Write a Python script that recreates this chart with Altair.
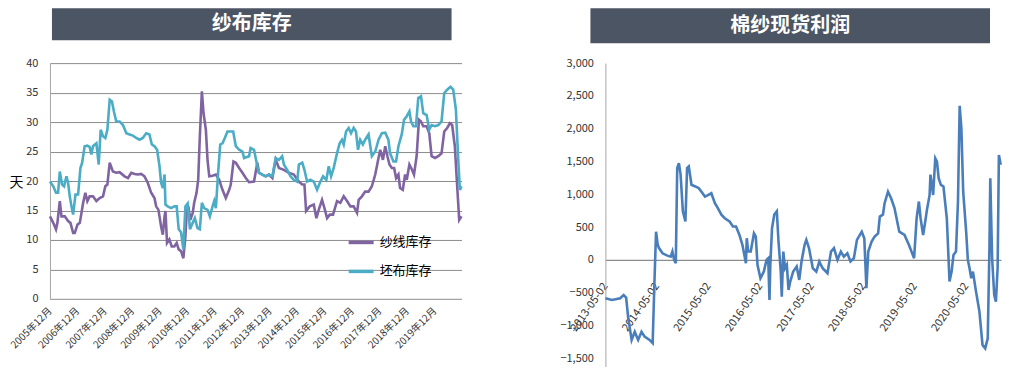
import altair as alt
import pandas as pd

FONT = "Noto Sans CJK SC"

# ---------------- left panel data: 纱布库存 (days) ----------------
yarn_dates = [
    "2005-12-01", "2006-01-14", "2006-02-19", "2006-03-10", "2006-04-11", "2006-05-03", "2006-06-16",
    "2006-07-30", "2006-08-30", "2006-10-05", "2006-10-27", "2006-12-02", "2007-01-02", "2007-02-15",
    "2007-03-16", "2007-04-12", "2007-05-12", "2007-06-26", "2007-08-10", "2007-09-23", "2007-11-06",
    "2007-12-07", "2008-01-03", "2008-02-03", "2008-03-17", "2008-04-30", "2008-06-14", "2008-08-19",
    "2008-10-03", "2008-11-16", "2008-12-30", "2009-02-13", "2009-03-27", "2009-05-10", "2009-06-23",
    "2009-08-07", "2009-09-20", "2009-10-12", "2009-11-12", "2009-12-17", "2010-01-09", "2010-02-01",
    "2010-02-13", "2010-03-06", "2010-04-06", "2010-05-07", "2010-06-11", "2010-07-12", "2010-08-08",
    "2010-09-08", "2010-10-09", "2010-11-05", "2010-11-22", "2010-12-14", "2011-01-10", "2011-02-10",
    "2011-03-02", "2011-04-02", "2011-04-24", "2011-05-16", "2011-06-12", "2011-07-04", "2011-08-04",
    "2011-08-26", "2011-09-18", "2011-11-01", "2011-12-15", "2012-01-28", "2012-03-12", "2012-04-25",
    "2012-06-09", "2012-06-30", "2012-08-05", "2012-09-05", "2012-10-19", "2012-12-02", "2013-01-16",
    "2013-02-28", "2013-05-05", "2013-06-18", "2013-07-10", "2013-08-23", "2013-10-07", "2013-11-20",
    "2014-01-04", "2014-02-17", "2014-04-01", "2014-06-06", "2014-08-11", "2014-10-16", "2014-12-22",
    "2015-02-05", "2015-03-06", "2015-03-28", "2015-05-15", "2015-07-08", "2015-08-12", "2015-09-12",
    "2015-10-26", "2015-11-27", "2016-01-01", "2016-02-06", "2016-03-20", "2016-05-12", "2016-06-25",
    "2016-08-09", "2016-09-22", "2016-11-06", "2016-12-19", "2017-02-02", "2017-02-24", "2017-04-08",
    "2017-05-21", "2017-07-05", "2017-08-18", "2017-10-02", "2017-11-02", "2017-12-07", "2018-01-12",
    "2018-02-12", "2018-03-13", "2018-04-09", "2018-05-10", "2018-06-10", "2018-07-06", "2018-08-06",
    "2018-08-28", "2018-10-03", "2018-11-03", "2018-11-25", "2018-12-30", "2019-01-31", "2019-03-01",
    "2019-04-05", "2019-05-06", "2019-06-02", "2019-07-02", "2019-08-16", "2019-09-20", "2019-10-21",
    "2019-12-05", "2020-01-18", "2020-03-01", "2020-04-06", "2020-05-15", "2020-06-20", "2020-07-20",
    "2020-08-25", "2020-09-17", "2020-10-22", "2020-11-22",
]
yarn_values = [
    14.0, 12.9, 11.8, 12.9, 16.6, 14.0, 14.0,
    13.2, 12.9, 11.2, 11.2, 12.6, 12.9, 16.3,
    18.0, 16.6, 17.4, 17.4, 16.6, 17.1, 17.4,
    19.1, 19.4, 23.1, 21.6, 21.4, 21.5, 20.8,
    20.5, 21.4, 21.2, 21.1, 21.2, 20.8, 19.7,
    18.0, 17.1, 15.7, 15.1, 12.3, 10.9, 14.0,
    14.9, 9.5, 10.1, 8.9, 8.9, 9.5, 8.4,
    8.1, 6.9, 10.6, 14.6, 15.7, 13.4, 14.6,
    16.3, 18.0, 20.2, 27.6, 35.2, 31.5, 28.7,
    23.6, 20.8, 20.9, 21.1, 20.2, 18.5, 17.1,
    18.5, 19.4, 23.3, 23.1, 22.2, 21.4, 20.5,
    19.8, 19.9, 23.1, 21.4, 21.1, 20.8, 21.1,
    20.5, 23.6, 22.2, 21.9, 21.4, 21.1, 19.9,
    19.4, 19.4, 14.9, 15.7, 16.0, 13.7, 15.1,
    16.8, 15.4, 13.7, 14.3, 14.3, 16.6, 16.3,
    17.4, 16.6, 15.7, 15.7, 14.6, 16.8, 17.4,
    18.2, 18.2, 19.1, 21.1, 23.1, 25.3, 23.6,
    25.9, 24.2, 22.8, 22.2, 22.2, 20.5, 21.1,
    18.8, 18.5, 21.1, 20.2, 22.8, 22.0, 21.1,
    24.2, 30.4, 30.1, 29.3, 29.3, 28.1, 24.2,
    23.9, 24.2, 24.7, 28.4, 29.0, 29.8, 29.5,
    25.9, 20.8, 13.4, 14.0,
]

cloth_dates = [
    "2005-12-01", "2006-01-14", "2006-02-19", "2006-03-19", "2006-04-11", "2006-05-11", "2006-06-07",
    "2006-07-08", "2006-07-30", "2006-08-21", "2006-09-13", "2006-10-05", "2006-11-05", "2006-12-10",
    "2007-01-10", "2007-02-02", "2007-03-07", "2007-04-12", "2007-05-12", "2007-06-04", "2007-06-26",
    "2007-08-10", "2007-09-10", "2007-10-06", "2007-11-06", "2007-12-07", "2008-01-03", "2008-02-03",
    "2008-03-04", "2008-03-30", "2008-04-30", "2008-06-14", "2008-07-28", "2008-09-11", "2008-10-24",
    "2008-12-08", "2009-01-21", "2009-03-05", "2009-04-18", "2009-06-02", "2009-07-15", "2009-08-16",
    "2009-09-20", "2009-10-25", "2009-11-26", "2009-12-17", "2010-01-09", "2010-02-01", "2010-02-13",
    "2010-03-15", "2010-04-28", "2010-06-11", "2010-07-12", "2010-08-08", "2010-09-08", "2010-10-09",
    "2010-11-05", "2010-12-05", "2011-01-05", "2011-02-10", "2011-03-10", "2011-04-15", "2011-05-16",
    "2011-06-12", "2011-07-12", "2011-08-26", "2011-09-26", "2011-11-01", "2011-11-23", "2011-12-15",
    "2012-01-15", "2012-02-11", "2012-03-12", "2012-04-12", "2012-05-17", "2012-06-30", "2012-08-01",
    "2012-09-05", "2012-10-19", "2012-12-02", "2012-12-24", "2013-02-28", "2013-03-21", "2013-05-05",
    "2013-06-18", "2013-07-10", "2013-08-23", "2013-10-07", "2013-11-20", "2014-01-04", "2014-02-17",
    "2014-04-01", "2014-05-14", "2014-06-06", "2014-07-19", "2014-09-02", "2014-10-16", "2014-11-30",
    "2014-12-22", "2015-02-05", "2015-03-06", "2015-04-10", "2015-05-24", "2015-07-08", "2015-08-21",
    "2015-10-04", "2015-11-09", "2015-12-22", "2016-01-23", "2016-02-23", "2016-03-28", "2016-05-12",
    "2016-06-16", "2016-07-17", "2016-08-09", "2016-09-09", "2016-10-14", "2016-11-14", "2016-12-19",
    "2017-01-19", "2017-02-15", "2017-03-16", "2017-04-21", "2017-05-21", "2017-07-05", "2017-08-18",
    "2017-10-02", "2017-11-15", "2017-12-29", "2018-02-12", "2018-03-26", "2018-04-17", "2018-06-01",
    "2018-07-06", "2018-08-06", "2018-09-19", "2018-10-20", "2018-11-25", "2018-12-30", "2019-01-21",
    "2019-02-21", "2019-03-27", "2019-04-27", "2019-06-02", "2019-07-02", "2019-08-16", "2019-09-20",
    "2019-10-21", "2019-12-05", "2020-01-18", "2020-03-01", "2020-04-06", "2020-05-15", "2020-06-29",
    "2020-08-03", "2020-09-08", "2020-10-09", "2020-10-31", "2020-11-22",
]
cloth_values = [
    19.9, 19.1, 18.0, 18.0, 21.6, 19.4, 19.1,
    20.8, 19.7, 17.4, 15.7, 14.3, 17.7, 17.7,
    22.2, 23.1, 25.9, 26.0, 25.8, 24.5, 25.9,
    26.4, 22.8, 28.7, 27.6, 27.3, 28.7, 33.8,
    33.5, 31.8, 30.1, 30.1, 29.5, 28.1, 27.9,
    27.7, 27.3, 27.0, 27.3, 28.1, 27.9, 26.2,
    25.9, 25.3, 22.5, 19.7, 18.8, 21.1, 16.0,
    15.7, 15.4, 15.7, 15.7, 11.8, 11.3, 8.4,
    15.7, 16.2, 11.8, 12.9, 13.7, 12.0, 11.8,
    16.3, 15.4, 15.1, 14.0, 15.7, 16.6, 15.4,
    21.6, 26.2, 26.4, 27.3, 28.4, 28.4, 28.4,
    25.9, 25.3, 25.0, 23.9, 24.2, 25.6, 25.3,
    22.5, 21.4, 21.1, 20.8, 21.1, 20.8, 23.9,
    23.6, 24.2, 22.8, 21.9, 20.8, 20.2, 19.9,
    22.8, 23.1, 21.9, 19.9, 20.2, 19.9, 18.5,
    19.9, 20.8, 20.2, 22.5, 20.8, 22.2, 24.7,
    26.4, 27.0, 26.2, 28.4, 29.0, 28.1, 29.0,
    28.4, 25.3, 27.0, 26.2, 27.0, 27.9, 24.2,
    25.0, 27.0, 28.1, 28.2, 27.0, 24.7, 23.3,
    23.3, 25.9, 27.9, 30.4, 31.0, 31.8, 30.1,
    29.3, 29.3, 34.1, 34.4, 31.5, 31.2, 28.7,
    29.5, 29.3, 29.5, 30.1, 34.9, 35.5, 36.0,
    35.5, 32.1, 23.6, 18.5, 19.1,
]
left_ticks = [str(y) for y in range(2005, 2020)]  # label every December

# ---------------- right panel data: 棉纱现货利润 ----------------
profit_dates = [
    "2013-05-02", "2013-06-17", "2013-08-15", "2013-09-08", "2013-09-26", "2013-10-11", "2013-11-04",
    "2013-11-26", "2013-12-20", "2014-01-13", "2014-02-04", "2014-03-11", "2014-04-02", "2014-04-14",
    "2014-04-26", "2014-05-08", "2014-05-17", "2014-06-11", "2014-07-15", "2014-08-08", "2014-08-20",
    "2014-09-01", "2014-09-13", "2014-09-23", "2014-10-05", "2014-10-17", "2014-11-02", "2014-11-20",
    "2014-12-02", "2014-12-14", "2015-01-02", "2015-01-29", "2015-02-22", "2015-03-14", "2015-04-08",
    "2015-05-02", "2015-05-23", "2015-06-17", "2015-07-08", "2015-08-02", "2015-08-26", "2015-09-29",
    "2015-10-23", "2015-11-14", "2015-12-08", "2015-12-29", "2016-01-23", "2016-01-29", "2016-02-08",
    "2016-02-26", "2016-03-20", "2016-04-02", "2016-04-14", "2016-05-05", "2016-05-29", "2016-06-17",
    "2016-06-29", "2016-07-08", "2016-07-14", "2016-07-26", "2016-08-11", "2016-08-29", "2016-09-10",
    "2016-09-26", "2016-10-03", "2016-10-14", "2016-10-26", "2016-11-08", "2016-11-20", "2016-12-02",
    "2016-12-23", "2017-01-17", "2017-02-04", "2017-02-20", "2017-03-14", "2017-03-26", "2017-04-14",
    "2017-05-11", "2017-06-05", "2017-06-26", "2017-07-20", "2017-08-23", "2017-09-17", "2017-10-08",
    "2017-11-02", "2017-11-26", "2017-12-17", "2018-01-11", "2018-02-02", "2018-02-26", "2018-03-20",
    "2018-04-23", "2018-05-11", "2018-05-26", "2018-06-08", "2018-07-02", "2018-07-23", "2018-08-17",
    "2018-08-29", "2018-09-20", "2018-10-02", "2018-10-26", "2018-11-17", "2018-12-11", "2019-01-14",
    "2019-02-20", "2019-03-23", "2019-04-29", "2019-05-17", "2019-06-02", "2019-06-14", "2019-07-02",
    "2019-07-17", "2019-07-29", "2019-08-17", "2019-08-23", "2019-09-11", "2019-09-26", "2019-10-08",
    "2019-10-20", "2019-11-05", "2019-11-23", "2019-12-17", "2020-01-05", "2020-01-20", "2020-02-02",
    "2020-02-20", "2020-03-05", "2020-03-17", "2020-03-29", "2020-04-11", "2020-05-02", "2020-05-14",
    "2020-05-26", "2020-06-07", "2020-06-19", "2020-07-11", "2020-08-04", "2020-08-26", "2020-09-14",
    "2020-10-02", "2020-10-14", "2020-10-20", "2020-11-02", "2020-11-17", "2020-11-29", "2020-12-11",
    "2020-12-20", "2021-01-02",
]
profit_values = [
    -585, -610, -585, -535, -575, -890, -1220,
    -1095, -1220, -1095, -1170, -1220, -1270, -380,
    430, 230, 180, 100, 65, 50, 127,
    0, -50, 1400, 1475, 1300, 740, 585,
    1400, 1425, 1145, 1120, 1095, 1040, 965,
    990, 1017, 865, 790, 690, 635, 585,
    510, 510, 380, 230, -50, 330, 127,
    127, 405, 355, -75, -280, -178, 0,
    25, -610, -75, 483, 690, 740, 280,
    -178, -560, 127, -127, -75, -458, -330,
    -178, -100, -305, -25, 230, 305, 180,
    -127, -178, -25, -127, -203, 127, 180,
    0, 127, 50, 100, -25, 25, 305,
    430, 330, -432, 127, 280, 355, 405,
    660, 690, 865, 1040, 940, 790, 430,
    380, 230, 25, 635, 890, 635, 380,
    585, 763, 990, 1300, 990, 1550, 1500,
    1245, 1145, 1120, 635, -330, -178, 75,
    127, 890, 2350, 2010, 1040, 430, 0,
    -127, -280, -178, -483, -788, -1297, -1348,
    -1195, 180, 1245, 25, -535, -636, -127,
    1600, 1450,
]
right_ticks = [str(y) for y in range(2013, 2021)]  # each year's 05-02

left_df = pd.concat([
    pd.DataFrame({"date": yarn_dates, "value": yarn_values, "series": "纱线库存"}),
    pd.DataFrame({"date": cloth_dates, "value": cloth_values, "series": "坯布库存"}),
])
right_df = pd.DataFrame({"date": profit_dates, "value": profit_values})

TITLE_BG = "#4c5563"
AXIS_GREY = "#a6a6a6"
LABEL = "#333333"


def title_box(text, x0, x1, top, bottom):
    df = pd.DataFrame({"t": [text]})
    box = alt.Chart(df).mark_rect(color=TITLE_BG).encode(
        x=alt.value(x0), x2=alt.value(x1), y=alt.value(top), y2=alt.value(bottom)
    )
    txt = alt.Chart(df).mark_text(
        color="white", font=FONT, fontSize=20, fontWeight="bold", baseline="middle", align="center"
    ).encode(text="t:N", x=alt.value((x0 + x1) / 2), y=alt.value((top + bottom) / 2))
    return box, txt


# ---------------- left chart ----------------
LW, LH = 412, 236
left_lines = alt.Chart(left_df).mark_line(strokeWidth=2.6).encode(
    x=alt.X(
        "date:T",
        scale=alt.Scale(type="utc", domain=[alt.DateTime(year=2005, month=12, date=1, utc=True),
                                            alt.DateTime(year=2020, month=11, date=22, utc=True)]),
        axis=alt.Axis(
            values=[alt.DateTime(year=int(y), month=12, date=1, utc=True) for y in left_ticks],
            labelExpr="utcFormat(datum.value, '%Y年%m月')",
            labelAngle=-45, labelAlign="right", labelBaseline="middle",
            labelPadding=10, labelFontSize=10, labelColor=LABEL, labelFont=FONT,
            labelOverlap=False, labelBound=False, labelFlush=False,
            grid=False, ticks=False, tickSize=0, domainColor=AXIS_GREY, title=None,
        ),
    ),
    y=alt.Y(
        "value:Q",
        scale=alt.Scale(domain=[0, 40], nice=False),
        axis=alt.Axis(
            values=list(range(0, 41, 5)), grid=True, gridColor="#8c8c8c", gridWidth=1,
            ticks=False, tickSize=0, domainColor=AXIS_GREY, labelPadding=12,
            labelFontSize=11, labelColor=LABEL, labelFont=FONT,
            title="天", titleAngle=0, titleFontSize=14, titleFontWeight="normal", titleFont=FONT,
            titleColor="#000000", titleBaseline="middle", titleAlign="left",
            titleX=-41, titleY=119,
        ),
    ),
    color=alt.Color(
        "series:N",
        scale=alt.Scale(domain=["纱线库存", "坯布库存"], range=["#8064a2", "#4bacc6"]),
        legend=alt.Legend(
            orient="none", legendX=297, legendY=165, title=None, symbolType="stroke",
            symbolSize=625, symbolStrokeWidth=3.5, labelFontSize=13, labelFont=FONT,
            labelColor="#000000", rowPadding=7, padding=0, labelOffset=4,
        ),
    ),
)
lbox, ltxt = title_box("纱布库存", 2, 402, -55, -23)
left = alt.layer(lbox, ltxt, left_lines).properties(width=LW, height=LH)

# ---------------- right chart ----------------
RW, RH = 396, 304
YMIN, YMAX = -1630, 3000
zero_off = -(RH - RH * YMAX / (YMAX - YMIN))
right_line = alt.Chart(right_df).mark_line(strokeWidth=2.6, color="#4a7ebb").encode(
    x=alt.X(
        "date:T",
        scale=alt.Scale(type="utc", domain=[alt.DateTime(year=2013, month=5, date=2, utc=True),
                                            alt.DateTime(year=2021, month=1, date=4, utc=True)]),
        axis=alt.Axis(
            values=[alt.DateTime(year=int(y), month=5, date=2, utc=True) for y in right_ticks],
            labelExpr="utcFormat(datum.value, '%Y-%m-%d')",
            labelAngle=-55, labelAlign="right", labelBaseline="middle",
            labelPadding=24, labelFontSize=11, labelColor=LABEL, labelFont=FONT,
            labelOverlap=False, labelBound=False, labelFlush=False,
            offset=zero_off, grid=False, ticks=False, tickSize=0,
            domainColor="#8c8c8c", domainWidth=1.2, title=None,
        ),
    ),
    y=alt.Y(
        "value:Q",
        scale=alt.Scale(domain=[YMIN, YMAX], nice=False),
        axis=alt.Axis(
            values=list(range(-1500, 3001, 500)), format=",.0f", grid=False,
            ticks=False, tickSize=0, domainColor=AXIS_GREY, labelPadding=12,
            labelFontSize=11, labelColor=LABEL, labelFont=FONT, title=None,
        ),
    ),
)
rbox, rtxt = title_box("棉纱现货利润", -15, 385, -55, -20)
right = alt.layer(rbox, rtxt, right_line).properties(width=RW, height=RH)

chart = (
    alt.hconcat(left, right, spacing=92)
    .properties(padding={"left": 0, "top": 0, "right": 0, "bottom": 0})
    .configure(font=FONT)
    .configure_view(strokeWidth=0, stroke="transparent")
)

chart.save("out.html", embed_options={"renderer": "svg", "actions": False})
